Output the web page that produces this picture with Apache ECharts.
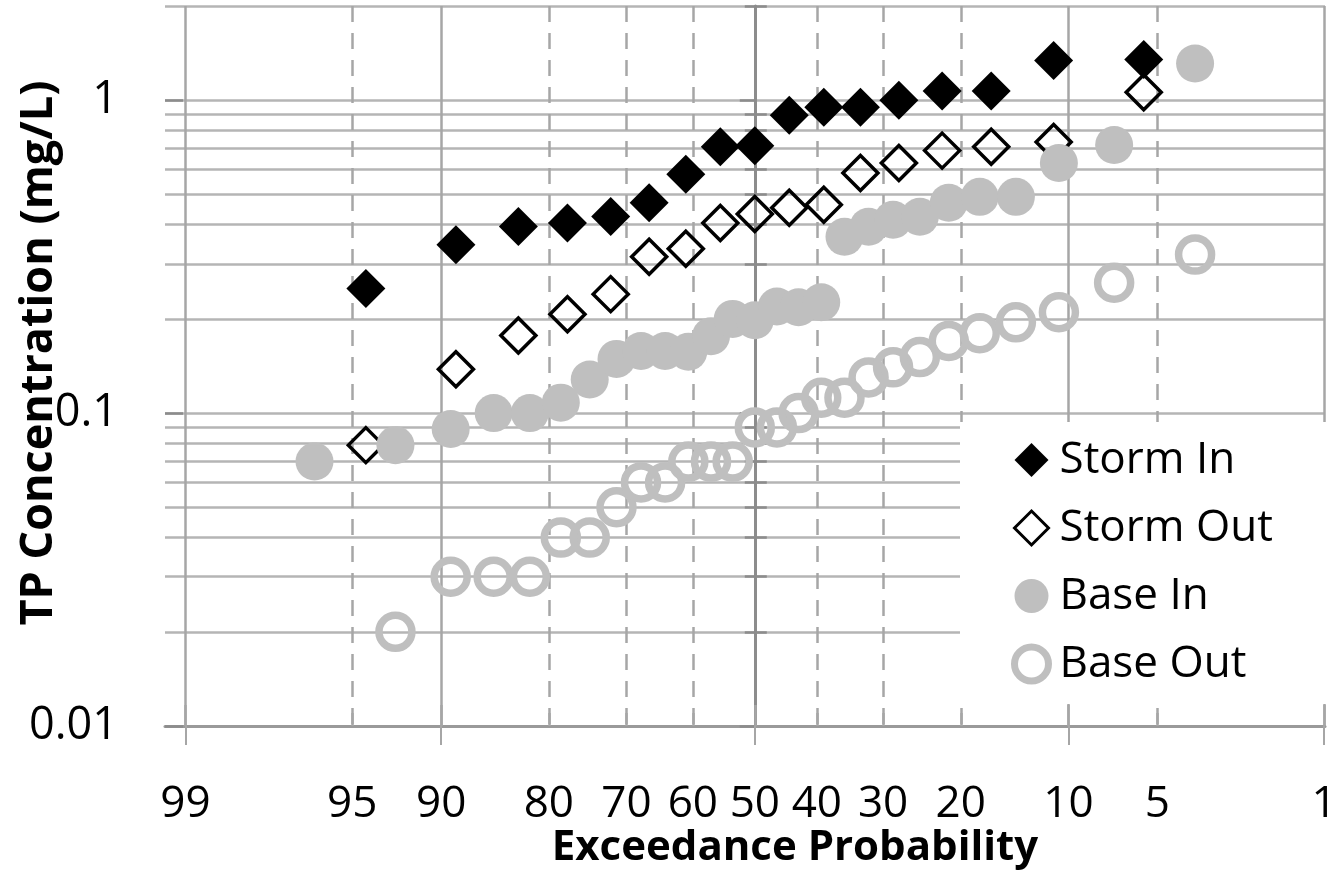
<!DOCTYPE html>
<html>
<head>
<meta charset="utf-8">
<script src="https://cdn.jsdelivr.net/npm/echarts@6/dist/echarts.min.js"></script>
<style>
  html, body { margin: 0; padding: 0; background: #fff; }
  #chart { width: 1329px; height: 870px; }
</style>
</head>
<body>
<div id="chart"></div>
<script>
// exceedance probability (%) of each ranked sample
const stormProb = [94.4, 88.9, 83.3, 77.8, 72.2, 66.7, 61.1, 55.6, 50.0, 44.4, 38.9, 33.3, 27.8, 22.2, 16.7, 11.1, 5.6]
const baseProb = [96.4, 92.9, 89.3, 85.7, 82.1, 78.6, 75.0, 71.4, 67.9, 64.3, 60.7, 57.1, 53.6, 50.0,
  46.4, 42.9, 39.3, 35.7, 32.1, 28.6, 25.0, 21.4, 17.9, 14.3, 10.7, 7.1, 3.6]
const baseOutProb = [92.9, 89.3, 85.7, 82.1, 78.6, 75.0, 71.4, 67.9, 64.3, 60.7, 57.1, 53.6, 50.0,
  46.4, 42.9, 39.3, 35.7, 32.1, 28.6, 25.0, 21.4, 17.9, 14.3, 10.7, 7.1, 3.6]

// TP concentration (mg/L)
const stormIn = [0.25, 0.345, 0.395, 0.405, 0.425, 0.47, 0.58, 0.71, 0.715, 0.895, 0.95, 0.95, 1.0, 1.07, 1.07, 1.34, 1.35]
const stormOut = [0.079, 0.138, 0.177, 0.207, 0.24, 0.316, 0.335, 0.405, 0.433, 0.453, 0.463, 0.585, 0.63, 0.69, 0.71, 0.735, 1.06]
const baseIn = [0.07, 0.079, 0.089, 0.1, 0.1, 0.108, 0.128, 0.149, 0.158, 0.158, 0.157, 0.176, 0.2, 0.198,
  0.219, 0.218, 0.226, 0.366, 0.394, 0.415, 0.424, 0.47, 0.491, 0.491, 0.63, 0.719, 1.31]
const baseOut = [0.02, 0.03, 0.03, 0.03, 0.04, 0.04, 0.05, 0.06, 0.06, 0.07, 0.07, 0.07, 0.09,
  0.09, 0.1, 0.112, 0.112, 0.13, 0.14, 0.151, 0.17, 0.18, 0.195, 0.21, 0.261, 0.321]

// axis ticks
const probLabels = [99, 95, 90, 80, 70, 60, 50, 40, 30, 20, 10, 5, 1]
const probSolid = [99, 90, 50, 10, 1]
const probDashed = [95, 80, 70, 60, 40, 30, 20, 5]
const concMajor = [0.01, 0.1, 1]
const concMinor = [0.02, 0.03, 0.04, 0.05, 0.06, 0.07, 0.08, 0.09, 0.2, 0.3, 0.4, 0.5, 0.6, 0.7, 0.8, 0.9, 2]

const font = '"Open Sans", "Liberation Sans", sans-serif'

// inverse standard normal cdf (Acklam)
function probit(p) {
  const a = [-3.969683028665376e+01, 2.209460984245205e+02, -2.759285104469687e+02, 1.383577518672690e+02, -3.066479806614716e+01, 2.506628277459239e+00]
  const b = [-5.447609879822406e+01, 1.615858368580409e+02, -1.556989798598866e+02, 6.680131188771972e+01, -1.328068155288572e+01]
  const c = [-7.784894002430293e-03, -3.223964580411365e-01, -2.400758277161838e+00, -2.549732539343734e+00, 4.374664141464968e+00, 2.938163982698783e+00]
  const d = [7.784695709041462e-03, 3.224671290700398e-01, 2.445134137142996e+00, 3.754408661907416e+00]
  const pl = 0.02425
  let q, r
  if (p < pl) {
    q = Math.sqrt(-2 * Math.log(p))
    return (((((c[0] * q + c[1]) * q + c[2]) * q + c[3]) * q + c[4]) * q + c[5]) / ((((d[0] * q + d[1]) * q + d[2]) * q + d[3]) * q + 1)
  }
  if (p > 1 - pl) {
    q = Math.sqrt(-2 * Math.log(1 - p))
    return -(((((c[0] * q + c[1]) * q + c[2]) * q + c[3]) * q + c[4]) * q + c[5]) / ((((d[0] * q + d[1]) * q + d[2]) * q + d[3]) * q + 1)
  }
  q = p - 0.5
  r = q * q
  return (((((a[0] * r + a[1]) * r + a[2]) * r + a[3]) * r + a[4]) * r + a[5]) * q / (((((b[0] * r + b[1]) * r + b[2]) * r + b[3]) * r + b[4]) * r + 1)
}

// exceedance % -> normal score (left = rare exceedance high)
const toZ = exc => probit(1 - exc / 100)
const pairs = (probs, vals) => vals.map((v, i) => [toZ(probs[i]), v])
const labelFor = z => {
  const hit = probLabels.find(p => Math.abs(toZ(p) - z) < 1e-6)
  return hit === undefined ? '' : String(hit)
}

const X_MIN = -2.41, X_MAX = 2.33
const gridGray = '#a6a6a6'

const xBase = {
  type: 'value', min: X_MIN, max: X_MAX, position: 'bottom',
  axisLine: { show: false }, axisLabel: { show: false },
  axisTick: { show: false }, splitLine: { show: false }
}

const yBase = {
  type: 'log', logBase: 10, min: 0.01, max: 2, position: 'left',
  axisLine: { show: false }, axisLabel: { show: false },
  axisTick: { show: false }, splitLine: { show: false }
}

const myChart = echarts.init(document.getElementById('chart'))
const option = {
  animation: false,
  backgroundColor: '#fff',
  grid: { left: 165, right: 4, top: 6, bottom: 144, outerBoundsMode: 'none', containLabel: false },
  legend: {
    orient: 'vertical',
    left: 960,
    top: 422,
    backgroundColor: '#fff',
    padding: [16, 54, 18, 51],
    itemWidth: 34,
    itemHeight: 34,
    itemGap: 24,
    textStyle: { fontFamily: font, fontSize: 44, lineHeight: 44, color: '#000', padding: [0, 0, 0, 6] },
    data: [
      { name: 'Storm In', icon: 'diamond', itemStyle: { color: '#000', borderWidth: 0, opacity: 1 } },
      { name: 'Storm Out', icon: 'diamond', itemStyle: { color: '#fff', borderColor: '#000', borderWidth: 3, opacity: 1 } },
      { name: 'Base In', icon: 'circle', itemStyle: { color: '#bfbfbf', borderWidth: 0, opacity: 1 } },
      { name: 'Base Out', icon: 'circle', itemStyle: { color: '#fff', borderColor: '#bfbfbf', borderWidth: 7, opacity: 1 } }
    ]
  },
  xAxis: [
    {
      // solid grid lines + labels
      ...xBase,
      name: 'Exceedance Probability',
      nameLocation: 'middle',
      nameGap: 101,
      nameMoveOverlap: false,
      nameTextStyle: { fontFamily: font, fontSize: 42, fontWeight: 'bold', color: '#000', padding: [0, 0, 0, 100] },
      axisLine: { show: true, lineStyle: { color: '#9a9a9a', width: 3 } },
      axisTick: { show: true, length: 19, customValues: probSolid.map(toZ), lineStyle: { color: gridGray, width: 2 } },
      axisLabel: {
        show: true, customValues: probLabels.map(toZ), formatter: labelFor,
        fontFamily: font, fontSize: 44, lineHeight: 44, color: '#000', margin: 56
      },
      splitLine: { show: true, lineStyle: { color: gridGray, width: 2.5 } }
    },
    {
      // dashed grid lines
      ...xBase,
      axisTick: { show: true, inside: true, length: 13, customValues: probDashed.map(toZ), lineStyle: { color: gridGray, width: 2.5 } },
      splitLine: { show: true, lineStyle: { color: gridGray, width: 2.5, type: [16, 11] } }
    },
    {
      // inner half of the crossing ticks
      ...xBase,
      axisTick: { show: true, inside: true, length: 21, customValues: probSolid.map(toZ), lineStyle: { color: gridGray, width: 2.5 } }
    }
  ],
  yAxis: [
    {
      ...yBase,
      name: 'TP Concentration (mg/L)',
      nameLocation: 'middle',
      nameGap: 103,
      nameMoveOverlap: false,
      nameTextStyle: { fontFamily: font, fontSize: 45, fontWeight: 'bold', color: '#000', padding: [0, 0, 0, 26] },
      axisLine: { show: true, lineStyle: { color: '#8c8c8c', width: 3 } },
      axisTick: { show: true, length: 10, customValues: concMajor.concat(concMinor), lineStyle: { color: '#8c8c8c', width: 2.5 } },
      axisLabel: {
        show: true, customValues: concMajor, formatter: v => String(+v.toPrecision(3)),
        fontFamily: font, fontSize: 45, color: '#000', margin: 47
      },
      splitLine: { show: true, lineStyle: { color: '#b5b5b5', width: 2.5 } }
    },
    {
      ...yBase,
      axisTick: { show: true, inside: true, length: 12, customValues: concMinor, lineStyle: { color: '#8c8c8c', width: 2.5 } }
    },
    {
      ...yBase,
      axisTick: { show: true, length: 15, customValues: concMajor, lineStyle: { color: '#8c8c8c', width: 2.5 } }
    },
    {
      ...yBase,
      axisTick: { show: true, inside: true, length: 18, customValues: concMajor, lineStyle: { color: '#8c8c8c', width: 2.5 } }
    }
  ],
  series: [
    {
      name: 'Storm In', type: 'scatter', symbol: 'diamond', symbolSize: 39,
      itemStyle: { color: '#000', opacity: 1 },
      data: pairs(stormProb, stormIn)
    },
    {
      name: 'Storm Out', type: 'scatter', symbol: 'diamond', symbolSize: 35,
      itemStyle: { color: 'rgba(255,255,255,0)', borderColor: '#000', borderWidth: 3.5, opacity: 1 },
      data: pairs(stormProb, stormOut)
    },
    {
      name: 'Base In', type: 'scatter', symbol: 'circle', symbolSize: 38,
      itemStyle: { color: '#bfbfbf', opacity: 1 },
      data: pairs(baseProb, baseIn)
    },
    {
      name: 'Base Out', type: 'scatter', symbol: 'circle', symbolSize: 33,
      itemStyle: { color: 'rgba(255,255,255,0)', borderColor: '#bfbfbf', borderWidth: 7.5, opacity: 1 },
      data: pairs(baseOutProb, baseOut)
    }
  ]
}
myChart.setOption(option)
</script>
</body>
</html>
